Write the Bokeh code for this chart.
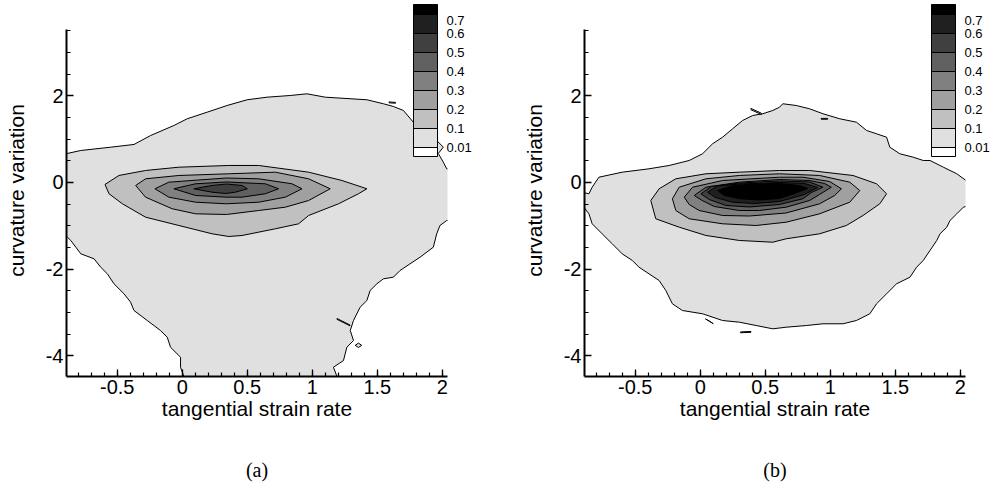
import numpy as np
from bokeh.plotting import figure
from bokeh.layouts import row
from bokeh.models import (ColumnDataSource, ColorBar, LinearColorMapper, FixedTicker, LinearAxis,
                          PrintfTickFormatter, CustomJSTickFormatter, Range1d, AllLabels)
from bokeh.embed import file_html
from bokeh.resources import INLINE

# ---------------- data ----------------
level_labels = ["0.01", "0.1", "0.2", "0.3", "0.4", "0.5", "0.6", "0.7"]
band_colors = ["#ffffff", "#e0e0e0", "#c0c0c0", "#a0a0a0", "#808080",
               "#606060", "#404040", "#202020", "#000000"]
x_ticks = [-0.5, 0, 0.5, 1, 1.5, 2]
y_ticks = [-4, -2, 0, 2]
x_label = "tangential strain rate"
y_label = "curvature variation"

# panel (a): contour 0.01 (outer) and 0.1 ... 0.5
a_outer_x = [-0.972, -0.780, -0.550, -0.371, -0.243, -0.064, 0.038, 0.192, 0.345, 0.499, 0.652, 0.831,
             0.959, 1.100, 1.420, 1.547, 1.624, 1.701, 1.777, 1.867, 1.957, 2.008, 1.969, 2.008, 2.034,
             2.097, 2.1, 2.034, 1.982, 1.957, 1.931, 1.829, 1.752, 1.675, 1.624, 1.547, 1.497, 1.445,
             1.420, 1.368, 1.317, 1.292, 1.317, 1.266, 1.240, 1.163, 1.190, 1.190, 0.012, 0.012, -0.013,
             -0.013, -0.090, -0.115, -0.167, -0.269, -0.371, -0.397, -0.448, -0.525, -0.576, -0.627,
             -0.678, -0.780, -0.857, -0.883, -0.972]
a_outer_y = [0.612, 0.739, 0.815, 0.878, 1.085, 1.316, 1.471, 1.624, 1.778, 1.910, 1.970, 2.009, 2.048,
             1.970, 1.910, 1.818, 1.755, 1.663, 1.393, 1.201, 0.970, 0.815, 0.670, 0.469, 0.316, 0.277,
             -0.85, -0.878, -0.993, -1.185, -1.494, -1.725, -1.878, -2.032, -2.187, -2.224, -2.339,
             -2.494, -2.725, -2.880, -3.187, -3.418, -3.649, -3.804, -4.111, -4.266, -4.480, -4.69,
             -4.69, -4.480, -4.266, -4.035, -3.804, -3.573, -3.418, -3.187, -2.956, -2.764, -2.570,
             -2.339, -2.109, -1.956, -1.762, -1.647, -1.339, -1.263, -1.247]
a_c1_x = [-0.594, -0.487, -0.282, -0.026, 0.358, 0.588, 0.972, 1.228, 1.420, 1.355, 1.202, 0.972, 0.895,
          0.716, 0.460, 0.358, 0.230, -0.026, -0.282, -0.460, -0.563]
a_c1_y = [-0.046, 0.162, 0.277, 0.353, 0.393, 0.393, 0.238, 0.046, -0.145, -0.261, -0.492, -0.762,
          -0.954, -1.069, -1.224, -1.247, -1.185, -0.993, -0.801, -0.492, -0.261]
a_c2_x = [-0.358, -0.282, -0.026, 0.358, 0.716, 0.972, 1.138, 0.972, 0.793, 0.588, 0.340, 0.102, -0.077, -0.282]
a_c2_y = [-0.069, 0.085, 0.162, 0.201, 0.238, 0.085, -0.145, -0.416, -0.570, -0.647, -0.739, -0.723, -0.607, -0.339]
a_c3_x = [-0.210, -0.103, 0.340, 0.588, 0.844, 0.921, 0.793, 0.588, 0.340, 0.102, -0.103]
a_c3_y = [-0.145, 0.007, 0.104, 0.085, -0.030, -0.145, -0.339, -0.455, -0.492, -0.455, -0.339]
a_c4_x = [-0.064, 0.102, 0.340, 0.639, 0.741, 0.639, 0.460, 0.340, 0.102]
a_c4_y = [-0.145, -0.030, 0.012, -0.030, -0.145, -0.261, -0.339, -0.339, -0.300]
a_c5_x = [0.089, 0.230, 0.340, 0.460, 0.501, 0.409, 0.332, 0.230]
a_c5_y = [-0.145, -0.069, -0.035, -0.069, -0.145, -0.224, -0.254, -0.224]
a_islands_x = [[1.59, 1.64, 1.64, 1.59], [1.19, 1.29, 1.29, 1.19], [1.33, 1.355, 1.38, 1.355]]
a_islands_y = [[1.86, 1.85, 1.83, 1.84], [-3.14, -3.29, -3.31, -3.16], [-3.76, -3.71, -3.76, -3.81]]

# panel (b): contour 0.01 (outer) and 0.1 ... 0.7
b_outer_x = [-0.805, -0.779, -0.600, -0.394, -0.239, -0.085, 0.018, 0.095, 0.172, 0.249, 0.326, 0.404,
             0.481, 0.558, 0.610, 0.635, 0.738, 0.841, 0.944, 1.073, 1.201, 1.279, 1.356, 1.433, 1.458,
             1.535, 1.638, 1.715, 1.767, 1.870, 1.973, 2.076, 2.076, 2.024, 1.973, 1.921, 1.896, 1.844,
             1.819, 1.767, 1.715, 1.664, 1.613, 1.510, 1.433, 1.356, 1.304, 1.201, 1.098, 0.944, 0.816,
             0.661, 0.558, 0.430, 0.301, 0.172, 0.018, -0.137, -0.214, -0.265, -0.316, -0.394, -0.471,
             -0.522, -0.600, -0.677, -0.754, -0.831, -0.856, -0.895, -0.972, -0.972, -0.856, -0.831]
b_outer_y = [0.007, 0.122, 0.238, 0.316, 0.393, 0.508, 0.663, 0.894, 1.046, 1.240, 1.432, 1.547, 1.587,
             1.663, 1.739, 1.818, 1.778, 1.702, 1.587, 1.471, 1.393, 1.201, 1.125, 1.046, 0.815, 0.663,
             0.584, 0.508, 0.508, 0.353, 0.201, -0.023, -0.531, -0.570, -0.723, -0.878, -1.032, -1.185,
             -1.339, -1.570, -1.801, -1.956, -2.187, -2.339, -2.570, -2.801, -3.032, -3.187, -3.263,
             -3.263, -3.303, -3.342, -3.379, -3.303, -3.226, -3.187, -3.032, -2.956, -2.801, -2.494,
             -2.263, -2.109, -1.956, -1.801, -1.647, -1.416, -1.185, -0.954, -0.723, -0.570, -0.416,
             -0.185, -0.261, -0.109]
b_c1_x = [-0.380, -0.316, -0.188, 0.044, 0.301, 0.610, 0.841, 1.175, 1.356, 1.433, 1.381, 1.252, 1.124,
          0.918, 0.661, 0.558, 0.301, 0.044, -0.162, -0.342]
b_c1_y = [-0.416, -0.145, 0.085, 0.201, 0.238, 0.277, 0.277, 0.162, -0.030, -0.261, -0.492, -0.762,
          -0.993, -1.185, -1.300, -1.379, -1.339, -1.224, -1.032, -0.838]
b_c2_x = [-0.214, -0.162, 0.044, 0.301, 0.610, 0.918, 1.150, 1.227, 1.150, 0.918, 0.661, 0.430, 0.172, -0.085, -0.188]
b_c2_y = [-0.376, -0.109, 0.085, 0.162, 0.201, 0.162, 0.007, -0.185, -0.455, -0.723, -0.917, -0.993, -0.954, -0.838, -0.647]
b_c3_x = [-0.123, -0.059, 0.172, 0.610, 0.789, 0.995, 1.086, 1.034, 0.918, 0.661, 0.378, 0.172, -0.008, -0.085]
b_c3_y = [-0.339, -0.109, 0.046, 0.122, 0.122, 0.023, -0.145, -0.300, -0.492, -0.704, -0.774, -0.762, -0.647, -0.508]
b_c4_x = [-0.046, 0.044, 0.301, 0.610, 0.841, 0.957, 1.008, 0.918, 0.841, 0.661, 0.455, 0.301, 0.108, 0.015]
b_c4_y = [-0.300, -0.109, 0.007, 0.069, 0.046, -0.023, -0.109, -0.277, -0.416, -0.570, -0.647, -0.647, -0.554, -0.416]
b_c5_x = [0.005, 0.085, 0.301, 0.610, 0.841, 0.944, 0.856, 0.789, 0.610, 0.378, 0.198, 0.069]
b_c5_y = [-0.261, -0.092, -0.012, 0.035, 0.012, -0.109, -0.231, -0.376, -0.508, -0.566, -0.531, -0.393]
b_c6_x = [0.056, 0.131, 0.301, 0.610, 0.802, 0.903, 0.802, 0.610, 0.417, 0.249, 0.116]
b_c6_y = [-0.224, -0.081, -0.035, 0.000, -0.023, -0.115, -0.277, -0.439, -0.485, -0.455, -0.346]
b_c7_x = [0.133, 0.249, 0.455, 0.610, 0.764, 0.826, 0.725, 0.610, 0.455, 0.301, 0.185]
b_c7_y = [-0.185, -0.069, -0.035, -0.023, -0.069, -0.139, -0.254, -0.370, -0.404, -0.376, -0.300]
b_islands_x = [[0.39, 0.47, 0.47, 0.39], [0.93, 0.98, 0.98, 0.93], [0.04, 0.10, 0.07], [0.31, 0.39, 0.39, 0.31]]
b_islands_y = [[1.71, 1.60, 1.57, 1.68], [1.48, 1.48, 1.46, 1.46], [-3.15, -3.26, -3.20], [-3.45, -3.44, -3.46, -3.47]]

# ---------------- layout constants ----------------
X_LO, X_HI = -0.89, 2.04
Y_LO, Y_HI = -4.48, 4.11
Y_AXIS_TOP = 3.53
FONT = "Liberation Sans"


def make_panel(contours_x, contours_y, isl_x, isl_y, caption, width, border_right):
    p = figure(width=width, height=493, x_range=Range1d(X_LO, X_HI), y_range=Range1d(Y_LO, Y_HI),
               toolbar_location=None, output_backend="svg",
               min_border_left=66, min_border_right=border_right, min_border_top=4, min_border_bottom=117)
    p.outline_line_color = None
    p.grid.visible = False
    p.background_fill_color = "white"

    xs, ys, fc = [], [], []
    xs.append(contours_x[0]); ys.append(contours_y[0]); fc.append(band_colors[1])
    for ix, iy in zip(isl_x, isl_y):
        xs.append(ix); ys.append(iy); fc.append(band_colors[1])
    for k in range(1, len(contours_x)):
        xs.append(contours_x[k]); ys.append(contours_y[k]); fc.append(band_colors[k + 1])
    src = ColumnDataSource(dict(xs=xs, ys=ys, fc=fc))
    p.patches("xs", "ys", source=src, fill_color="fc", line_color="black", line_width=1)

    for ax in (p.xaxis[0], p.yaxis[0]):
        ax.axis_line_width = 2
        ax.axis_line_color = "black"
        ax.major_tick_in = 7
        ax.major_tick_out = 0
        ax.minor_tick_in = 4
        ax.minor_tick_out = 0
        ax.major_tick_line_width = 1.3
        ax.minor_tick_line_width = 1.2
        ax.major_tick_line_color = "black"
        ax.minor_tick_line_color = "black"
        ax.major_label_text_font = FONT
        ax.major_label_text_font_size = "20px"
        ax.major_label_text_color = "black"
        ax.axis_label_text_font = FONT
        ax.axis_label_text_font_size = "21px"
        ax.axis_label_text_font_style = "normal"
        ax.axis_label_text_color = "black"
        ax.major_label_standoff = 3
        ax.formatter = PrintfTickFormatter(format="%g")
    p.xaxis.ticker = FixedTicker(ticks=x_ticks, minor_ticks=list(np.round(np.arange(-0.8, 2.05, 0.1), 1)))
    p.yaxis.ticker = FixedTicker(ticks=y_ticks, minor_ticks=list(np.arange(-4.0, 3.6, 0.5)))
    p.yaxis.bounds = (Y_LO, Y_AXIS_TOP)
    p.xaxis.axis_label = x_label
    p.yaxis.axis_label = y_label
    p.xaxis.axis_label_standoff = 0
    p.yaxis.axis_label_standoff = 15

    # caption as the label of an invisible extra axis below
    cap = LinearAxis(axis_label=caption, ticker=FixedTicker(ticks=[]),
                     axis_line_color=None, major_tick_line_color=None, minor_tick_line_color=None,
                     major_label_text_font_size="0px", axis_label_standoff=36,
                     axis_label_text_font="Liberation Serif", axis_label_text_font_size="20px",
                     axis_label_text_font_style="normal", axis_label_text_color="black")
    p.add_layout(cap, "below")

    # legend colour bar
    palette = [band_colors[0]] + [c for c in band_colors[1:-1] for _ in (0, 1)] + [band_colors[-1]]
    mapper = LinearColorMapper(palette=palette, low=-0.5, high=len(level_labels) - 0.5)
    label_pos = list(range(len(level_labels) - 1)) + [len(level_labels) - 1.32]
    cb = ColorBar(color_mapper=mapper,
                  ticker=FixedTicker(ticks=label_pos, minor_ticks=list(range(len(level_labels)))),
                  formatter=CustomJSTickFormatter(args=dict(labels=level_labels),
                                                  code="return labels[Math.round(tick)];"),
                  major_label_policy=AllLabels(),
                  width=24, height=152, location=(347, 220), padding=0, margin=0,
                  bar_line_color="black", bar_line_width=1,
                  major_tick_line_color=None, major_tick_in=0, major_tick_out=0,
                  minor_tick_line_color="black", minor_tick_in=24, minor_tick_out=0,
                  label_standoff=9, major_label_text_font=FONT, major_label_text_font_size="13px",
                  major_label_text_color="black",
                  background_fill_alpha=0, border_line_color=None)
    p.add_layout(cb)
    return p


pa = make_panel([a_outer_x, a_c1_x, a_c2_x, a_c3_x, a_c4_x, a_c5_x],
                [a_outer_y, a_c1_y, a_c2_y, a_c3_y, a_c4_y, a_c5_y],
                a_islands_x, a_islands_y, "(a)", 518, 71)
pb = make_panel([b_outer_x, b_c1_x, b_c2_x, b_c3_x, b_c4_x, b_c5_x, b_c6_x, b_c7_x],
                [b_outer_y, b_c1_y, b_c2_y, b_c3_y, b_c4_y, b_c5_y, b_c6_y, b_c7_y],
                b_islands_x, b_islands_y, "(b)", 479, 32)

layout = row(pa, pb)
open("out.html", "w").write(file_html(layout, INLINE))
